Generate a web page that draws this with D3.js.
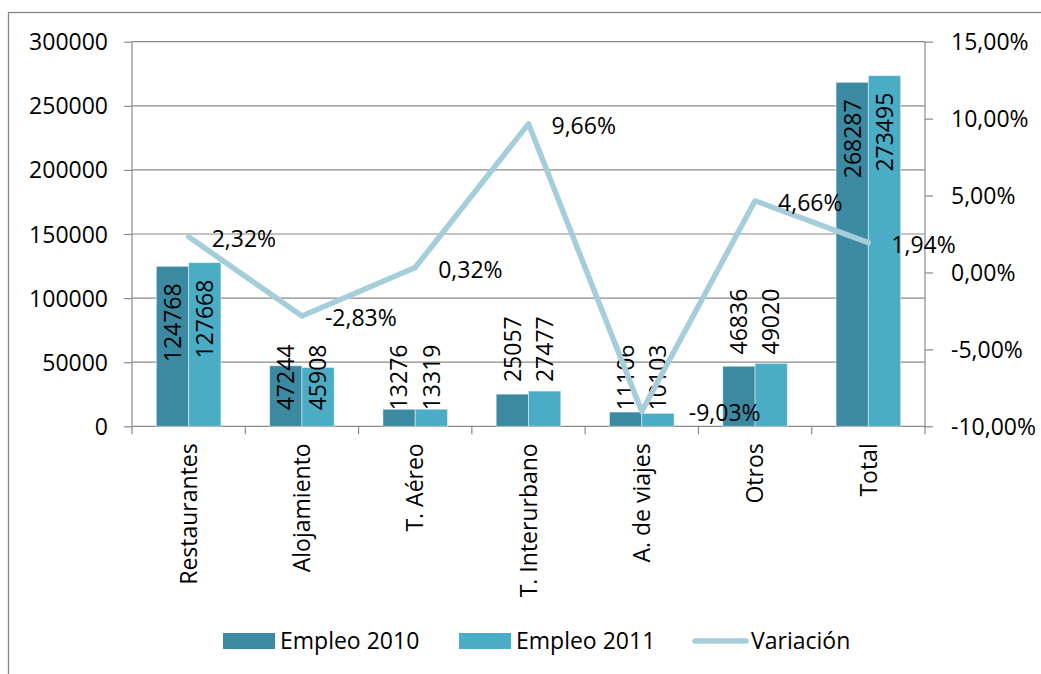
<!DOCTYPE html>
<html>
<head>
<meta charset="utf-8">
<script src="https://cdn.jsdelivr.net/npm/d3@7"></script>
<style>
  body { margin: 0; background: #fff; }
  svg text { font-family: "Open Sans", sans-serif; font-size: 23px; fill: #000; }
</style>
</head>
<body>
<svg id="chart" width="1041" height="674"></svg>
<script>
// chart data
var categories = ["Restaurantes", "Alojamiento", "T. Aéreo", "T. Interurbano", "A. de viajes", "Otros", "Total"];
var empleo2010 = [124768, 47244, 13276, 25057, 11106, 46836, 268287];
var empleo2011 = [127668, 45908, 13319, 27477, 10103, 49020, 273495];
var variacion = [2.32, -2.83, 0.32, 9.66, -9.03, 4.66, 1.94];
var seriesNames = ["Empleo 2010", "Empleo 2011", "Variación"];
var leftTicks = [0, 50000, 100000, 150000, 200000, 250000, 300000];
var rightTicks = [-10, -5, 0, 5, 10, 15];

// how the bar value labels sit in each category
var labelModes = ["end", "base", "base", "above", "base", "above", "end"];

var colors = { e2010: "#3c8aa1", e2011: "#4bacc6", line: "#a5cdda", grid: "#8a8a8a" };

var plot = { left: 132, right: 925, top: 41.7, bottom: 426.3 };

var svg = d3.select("#chart");

var es = d3.formatLocale({ decimal: ",", thousands: ".", grouping: [3], currency: ["", "€"], minus: "-" });
var pct = function (v) { return es.format(".2f")(v) + "%"; };

// outer frame (runs off the bottom and right edge of the picture)
svg.append("rect")
    .attr("x", 8.5).attr("y", 12.5)
    .attr("width", 1100).attr("height", 700)
    .attr("fill", "none").attr("stroke", "#868686").attr("stroke-width", 1.3);

var x0 = d3.scaleBand().domain(categories).range([plot.left, plot.right]).padding(0);
var x1 = d3.scaleBand().domain([0, 1]).range([0, x0.bandwidth()]).paddingInner(0).paddingOuter(0.755);
var yLeft = d3.scaleLinear().domain([0, 300000]).range([plot.bottom, plot.top]);
var yRight = d3.scaleLinear().domain([-10, 15]).range([plot.bottom, plot.top]);

// gridlines
svg.append("g").selectAll("line").data(leftTicks.slice(1)).join("line")
    .attr("x1", plot.left).attr("x2", plot.right)
    .attr("y1", function (d) { return yLeft(d); })
    .attr("y2", function (d) { return yLeft(d); })
    .attr("stroke", colors.grid).attr("stroke-width", 1.2);

// left axis
var gLeft = svg.append("g").attr("transform", "translate(" + plot.left + ",0)")
    .call(d3.axisLeft(yLeft).tickValues(leftTicks).tickFormat(d3.format("d")).tickSize(8).tickPadding(16));
// right axis
var gRight = svg.append("g").attr("transform", "translate(" + plot.right + ",0)")
    .call(d3.axisRight(yRight).tickValues(rightTicks).tickFormat(pct).tickSize(8).tickPadding(18));

[gLeft, gRight].forEach(function (g) {
    g.select(".domain").attr("stroke", colors.grid).attr("stroke-width", 1.2)
        .attr("d", "M0," + plot.top + "V" + plot.bottom);
    g.selectAll(".tick line").attr("stroke", colors.grid).attr("stroke-width", 1.2);
    g.selectAll(".tick text").attr("font-size", null).attr("font-family", null).attr("dy", "0.35em");
});

// bottom axis: line plus ticks at the category boundaries
var edges = categories.map(function (c) { return x0(c); }).concat([plot.right]);
svg.append("line")
    .attr("x1", plot.left).attr("x2", plot.right)
    .attr("y1", plot.bottom).attr("y2", plot.bottom)
    .attr("stroke", colors.grid).attr("stroke-width", 1.2);
svg.append("g").selectAll("line").data(edges).join("line")
    .attr("x1", function (d) { return d; }).attr("x2", function (d) { return d; })
    .attr("y1", plot.bottom).attr("y2", plot.bottom + 8)
    .attr("stroke", colors.grid).attr("stroke-width", 1.2);

svg.append("g").selectAll("text").data(categories).join("text")
    .attr("transform", function (d) {
        return "translate(" + (x0(d) + x0.bandwidth() / 2) + "," + (plot.bottom + 17) + ") rotate(-90)";
    })
    .attr("text-anchor", "end")
    .attr("dy", "0.36em")
    .text(function (d) { return d; });

// bars
var barRows = categories.map(function (c, i) {
    return { cat: c, i: i, values: [empleo2010[i], empleo2011[i]] };
});
var barFill = [colors.e2010, colors.e2011];

var groups = svg.append("g").selectAll("g").data(barRows).join("g")
    .attr("transform", function (d) { return "translate(" + x0(d.cat) + ",0)"; });

groups.selectAll("rect").data(function (d) { return d.values; }).join("rect")
    .attr("x", function (d, j) { return x1(j); })
    .attr("y", function (d) { return yLeft(d); })
    .attr("width", x1.bandwidth())
    .attr("height", function (d) { return plot.bottom - yLeft(d); })
    .attr("fill", function (d, j) { return barFill[j]; })
    .attr("stroke", "rgba(255,255,255,0.45)").attr("stroke-width", 1);

// bar value labels, rotated
groups.each(function (row) {
    var mode = labelModes[row.i];
    var topOfPair = yLeft(d3.max(row.values));
    d3.select(this).selectAll("text").data(row.values).join("text")
        .attr("transform", function (d, j) {
            var cx = x1(j) + x1.bandwidth() / 2;
            var y;
            if (mode == "end") y = yLeft(d) + 17;
            else if (mode == "base") y = plot.bottom - 16;
            else y = topOfPair - 9;
            return "translate(" + cx + "," + y + ") rotate(-90)";
        })
        .attr("text-anchor", mode == "end" ? "end" : "start")
        .attr("dy", "0.36em")
        .text(function (d) { return d; });
});

// variation line on the right axis
var linePts = categories.map(function (c, i) {
    return { x: x0(c) + x0.bandwidth() / 2, v: variacion[i] };
});
svg.append("path")
    .datum(linePts)
    .attr("fill", "none")
    .attr("stroke", colors.line)
    .attr("stroke-width", 5.5)
    .attr("stroke-linejoin", "round")
    .attr("stroke-linecap", "round")
    .attr("d", d3.line().x(function (d) { return d.x; }).y(function (d) { return yRight(d.v); }));

svg.append("g").selectAll("text").data(linePts).join("text")
    .attr("x", function (d) { return d.x + (d.v < -5 ? 47 : 23); }) // the lowest one is pushed past the bars
    .attr("y", function (d) { return yRight(d.v) + 2; })
    .attr("dy", "0.35em")
    .text(function (d) { return pct(d.v); });

// legend
var legendY = 641;
var legend = svg.append("g");
var swatchX = [223, 459];
[0, 1].forEach(function (j) {
    legend.append("rect")
        .attr("x", swatchX[j]).attr("y", legendY - 8)
        .attr("width", 52).attr("height", 16)
        .attr("fill", barFill[j]);
    legend.append("text")
        .attr("x", swatchX[j] + 57).attr("y", legendY)
        .attr("dy", "0.35em")
        .text(seriesNames[j]);
});
legend.append("line")
    .attr("x1", 695).attr("x2", 746)
    .attr("y1", legendY).attr("y2", legendY)
    .attr("stroke", colors.line).attr("stroke-width", 5.5).attr("stroke-linecap", "round");
legend.append("text")
    .attr("x", 751).attr("y", legendY)
    .attr("dy", "0.35em")
    .text(seriesNames[2]);
</script>
</body>
</html>
